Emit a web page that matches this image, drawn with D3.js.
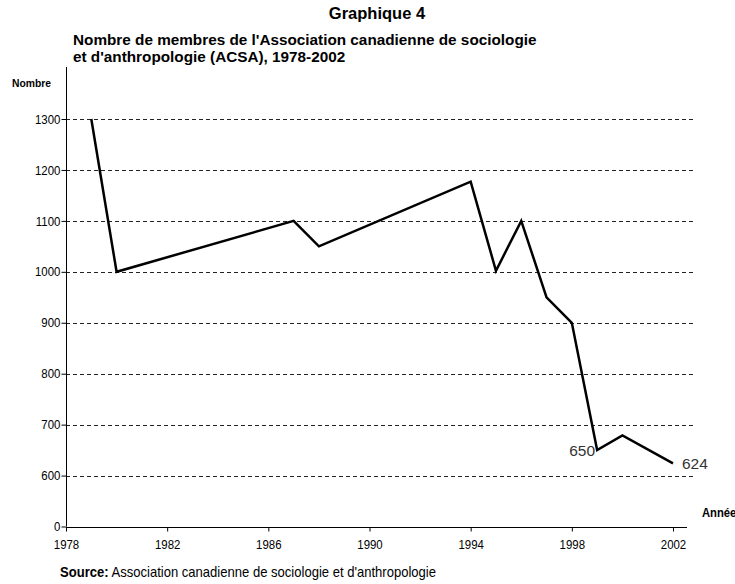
<!DOCTYPE html>
<html>
<head>
<meta charset="utf-8">
<script src="https://cdn.jsdelivr.net/npm/d3@7"></script>
<style>
  html, body { margin: 0; padding: 0; background: #fff; overflow: hidden; }
  text { font-family: "Liberation Sans", Arial, sans-serif; }
</style>
</head>
<body>
<div id="chart"></div>
<script>
// Graphique 4 - membres de l'ACSA
var years   = [1979, 1980, 1987, 1988, 1994, 1995, 1996, 1997, 1998, 1999, 2000, 2002];
var members = [1300, 1000, 1100, 1050, 1177, 1002, 1100, 950, 900, 650, 679, 624];
var xTicks  = [1978, 1982, 1986, 1990, 1994, 1998, 2002];
var yTicks  = [500, 600, 700, 800, 900, 1000, 1100, 1200, 1300];   // 500 is shown as "0" (broken axis)
var yLabels = ['0', '600', '700', '800', '900', '1000', '1100', '1200', '1300'];
var valueLabels = [[1999, 650], [2002, 624]];

(function() {
    'use strict';

    var width = 735, height = 584;

    var svg = d3.select('#chart')
      .append('svg')
        .attr('width', width)
        .attr('height', height);

    var x = d3.scaleLinear().domain([1978, 2002]).range([66, 673]);
    var y = d3.scaleLinear().domain([500, 1300]).range([526.5, 119]);

    // titles
    svg.append('text')
        .attr('x', 377).attr('y', 19)
        .attr('text-anchor', 'middle')
        .style('font-weight', 'bold').style('font-size', '16.5px')
        .text('Graphique 4');
    svg.append('text')
        .attr('x', 73).attr('y', 45)
        .style('font-weight', 'bold').style('font-size', '15.3px')
        .text("Nombre de membres de l'Association canadienne de sociologie");
    svg.append('text')
        .attr('x', 73).attr('y', 62)
        .style('font-weight', 'bold').style('font-size', '15.3px')
        .text("et d'anthropologie (ACSA), 1978-2002");

    // gridlines
    svg.append('g')
        .selectAll('line')
        .data(yTicks.slice(1))
        .enter().append('line')
          .attr('x1', x(1978)).attr('x2', 695)
          .attr('y1', function(d) { return Math.round(y(d)) + 0.5; })
          .attr('y2', function(d) { return Math.round(y(d)) + 0.5; })
          .attr('stroke', '#222')
          .attr('stroke-width', 1)
          .attr('stroke-dasharray', '4,3');

    // y axis
    var yAxis = d3.axisLeft(y)
        .tickValues(yTicks)
        .tickFormat(function(d, i) { return yLabels[i]; })
        .tickSize(5).tickPadding(2);
    var gy = svg.append('g')
        .attr('transform', 'translate(' + (x(1978) + 0.5) + ',0)')
        .call(yAxis);
    gy.select('.domain').remove();
    gy.append('line')
        .attr('x1', 0).attr('x2', 0)
        .attr('y1', 67).attr('y2', y(500))
        .attr('stroke', '#000');
    gy.selectAll('.tick text')
        .style('font-size', '13px')
        .attr('transform', 'scale(0.88,1)')
        .attr('fill', '#000');

    // x axis
    var xAxis = d3.axisBottom(x)
        .tickValues(xTicks)
        .tickFormat(d3.format('d'))
        .tickSize(4).tickPadding(8);
    var gx = svg.append('g')
        .attr('transform', 'translate(0,' + (Math.round(y(500)) + 0.5) + ')')
        .call(xAxis);
    gx.select('.domain').remove();
    gx.append('line')
        .attr('x1', x(1978)).attr('x2', 687)
        .attr('stroke', '#000');
    gx.selectAll('.tick text')
        .style('font-size', '13px')
        .attr('transform', 'scale(0.88,1)')
        .attr('fill', '#000');

    // axis titles
    svg.append('text')
        .attr('transform', 'translate(12,87) scale(0.9,1)')
        .style('font-weight', 'bold').style('font-size', '11.5px')
        .text('Nombre');
    svg.append('text')
        .attr('transform', 'translate(702,517) scale(0.9,1)')
        .style('font-weight', 'bold').style('font-size', '12.5px')
        .text('Année');

    // series
    var line = d3.line()
        .x(function(d, i) { return x(years[i]); })
        .y(function(d) { return y(d); });
    svg.append('path')
        .datum(members)
        .attr('fill', 'none')
        .attr('stroke', '#000')
        .attr('stroke-width', 2.5)
        .attr('stroke-linejoin', 'miter')
        .attr('d', line);

    // value labels
    svg.append('text')
        .attr('x', x(valueLabels[0][0]) - 2).attr('y', y(valueLabels[0][1]) + 6)
        .attr('text-anchor', 'end')
        .style('font-size', '15.5px').attr('fill', '#333')
        .text(valueLabels[0][1]);
    svg.append('text')
        .attr('x', x(valueLabels[1][0]) + 9).attr('y', y(valueLabels[1][1]) + 6)
        .style('font-size', '15.5px').attr('fill', '#333')
        .text(valueLabels[1][1]);

    // source
    var src = svg.append('text')
        .attr('transform', 'translate(60,577) scale(0.92,1)')
        .style('font-size', '14.2px');
    src.append('tspan').style('font-weight', 'bold').text('Source:');
    src.append('tspan').text(" Association canadienne de sociologie et d'anthropologie");
}());
</script>
</body>
</html>
